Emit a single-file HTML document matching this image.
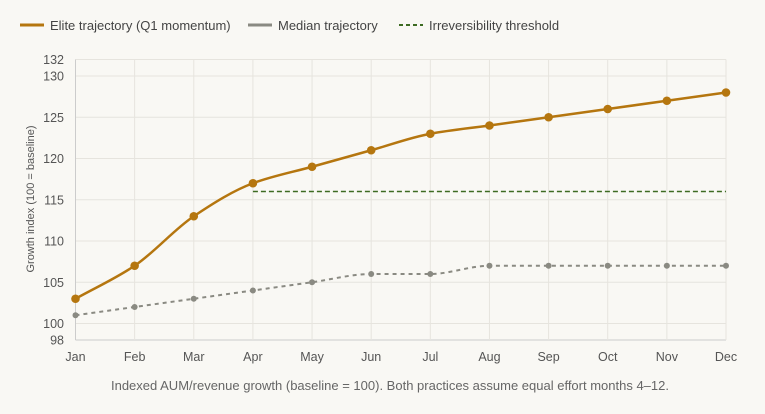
<!DOCTYPE html>
<html><head><meta charset="utf-8"><style>
html,body{margin:0;padding:0;background:#f9f8f4;}
svg{display:block;font-family:"Liberation Sans",sans-serif;}
</style></head><body>
<svg id="c" width="765" height="414">
<rect width="765" height="414" fill="#f9f8f4"/>
<g font-size="13" fill="#444">
 <g><line x1="20" y1="25" x2="44" y2="25" stroke="#b5760f" stroke-width="3"/><text x="50" y="30">Elite trajectory (Q1 momentum)</text></g>
 <g><line x1="248" y1="25" x2="272" y2="25" stroke="#8a8a82" stroke-width="3"/><text x="278" y="30">Median trajectory</text></g>
 <g><line x1="399" y1="25" x2="423" y2="25" stroke="#3d6b22" stroke-width="2" stroke-dasharray="4,3"/><text x="429" y="30">Irreversibility threshold</text></g>
</g>
<g id="grid"></g><g id="axes"></g><g id="series"></g>
<text x="390" y="390" text-anchor="middle" font-size="13" fill="#666">Indexed AUM/revenue growth (baseline = 100). Both practices assume equal effort months 4–12.</text>
<text transform="translate(34,199) rotate(-90)" text-anchor="middle" font-size="11" fill="#555">Growth index (100 = baseline)</text>
</svg>
<script>
const months=["Jan","Feb","Mar","Apr","May","Jun","Jul","Aug","Sep","Oct","Nov","Dec"];
const elite=[103,107,113,117,119,121,123,124,125,126,127,128];
const median=[101,102,103,104,105,106,106,107,107,107,107,107];
const threshold=116;
const thresholdStart=3;
const yTicks=[98,100,105,110,115,120,125,130,132];
const NS="http://www.w3.org/2000/svg";
const x0=75.5,x1=726,yTop=59.5,yBot=340,vMin=98,vMax=132;
const X=i=>x0+i*(x1-x0)/(months.length-1);
const Y=v=>yBot-(v-vMin)*(yBot-yTop)/(vMax-vMin);
function mk(tag,attrs,parent){const e=document.createElementNS(NS,tag);for(const k in attrs)e.setAttribute(k,attrs[k]);parent.appendChild(e);return e;}
const grid=document.getElementById('grid'),axes=document.getElementById('axes'),ser=document.getElementById('series');
yTicks.forEach(t=>{
 const l=mk('line',{x1:x0,x2:x1,y1:Y(t),y2:Y(t),stroke:t===vMin?'#ccc':'#e6e4de','stroke-width':1},grid);
 
 
 const tx=mk('text',{x:64,y:Y(t)+4.5,'text-anchor':'end','font-size':12.5,fill:'#555'},axes);tx.textContent=t;
 
 
});
months.forEach((m,i)=>{
 const l=mk('line',{x1:X(i),x2:X(i),y1:yTop,y2:yBot,stroke:i===0?'#ccc':'#e6e4de','stroke-width':1},grid);
 
 
 const tx=mk('text',{x:X(i),y:yBot+21,'text-anchor':'middle','font-size':12.5,fill:'#555'},axes);tx.textContent=m;
 
 
});
function mono(pts){
 const n=pts.length,d=[],m=[];
 for(let i=0;i<n-1;i++)d.push((pts[i+1][1]-pts[i][1])/(pts[i+1][0]-pts[i][0]));
 for(let i=0;i<n;i++){
  if(i===0)m.push(d[0]);else if(i===n-1)m.push(d[n-2]);
  else m.push(d[i-1]*d[i]<=0?0:2/(1/d[i-1]+1/d[i]));
 }
 let p=`M${pts[0][0]},${pts[0][1]}`;
 for(let i=0;i<n-1;i++){const h=(pts[i+1][0]-pts[i][0])/3;
  p+=`C${pts[i][0]+h},${pts[i][1]+m[i]*h} ${pts[i+1][0]-h},${pts[i+1][1]-m[i+1]*h} ${pts[i+1][0]},${pts[i+1][1]}`;}
 return p;
}
const th=mk('line',{x1:X(thresholdStart),x2:X(months.length-1),y1:Y(threshold),y2:Y(threshold),stroke:'#3d6b22','stroke-width':1.5,'stroke-dasharray':'5,3'},ser);


const mp=mk('path',{d:mono(median.map((v,i)=>[X(i),Y(v)])),fill:'none',stroke:'#8a8a82','stroke-width':2,'stroke-dasharray':'4,4'},ser);


median.forEach((v,i)=>{const c=mk('circle',{cx:X(i),cy:Y(v),r:3,fill:'#8a8a82'},ser);
 
 });
const ep=mk('path',{d:mono(elite.map((v,i)=>[X(i),Y(v)])),fill:'none',stroke:'#b5760f','stroke-width':2.5},ser);


elite.forEach((v,i)=>{const c=mk('circle',{cx:X(i),cy:Y(v),r:4.3,fill:'#b5760f'},ser);
 
 });
</script>
</body></html>
